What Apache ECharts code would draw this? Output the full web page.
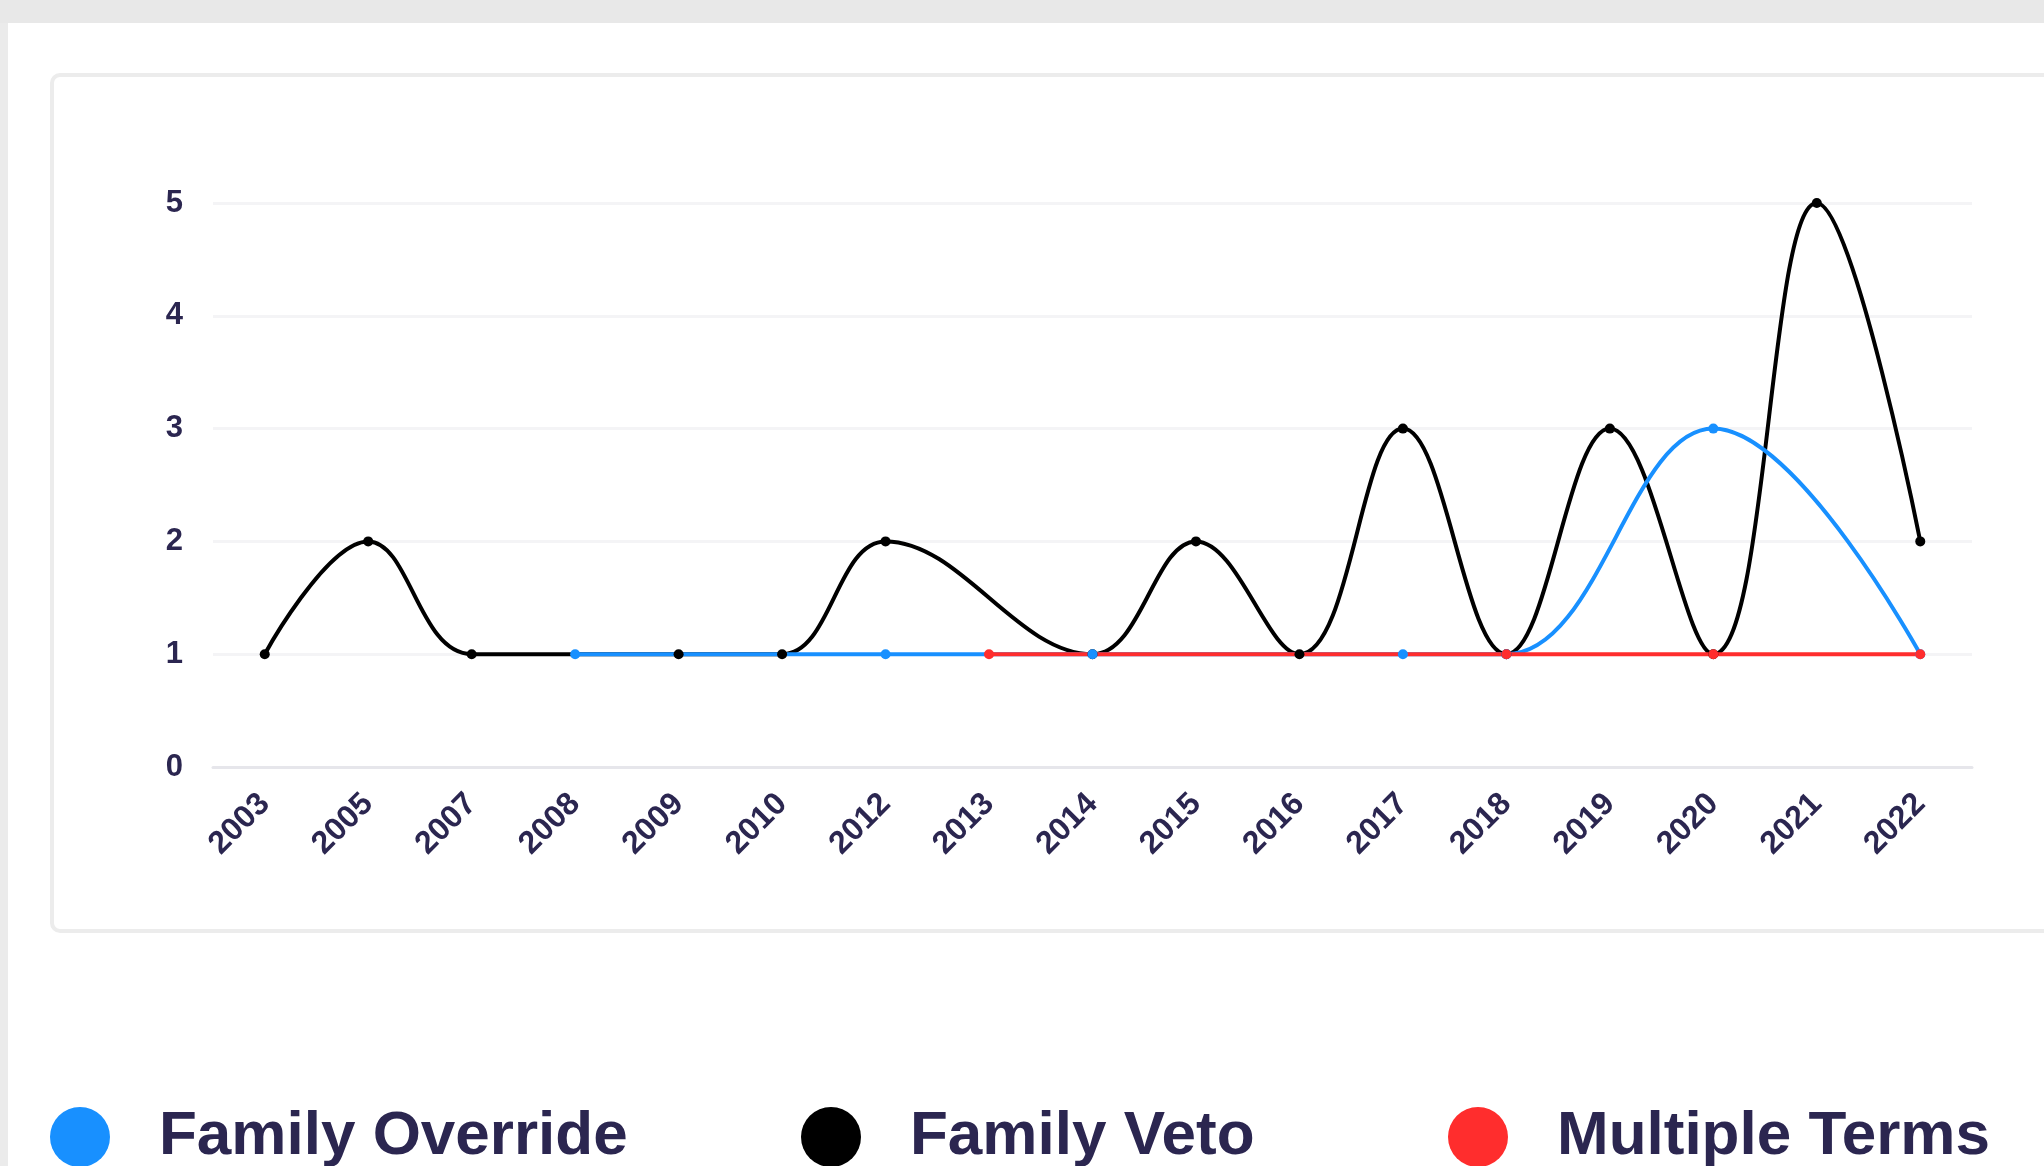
<!DOCTYPE html>
<html>
<head>
<meta charset="utf-8">
<title>Family Override / Veto / Multiple Terms</title>
<script src="https://cdn.jsdelivr.net/npm/echarts/dist/echarts.min.js"></script>
<style>
  html, body {
    margin: 0;
    padding: 0;
    width: 2044px;
    height: 1166px;
    overflow: hidden;
    background: #fff;
  }
  /* page frame */
  .topBar {
    position: absolute;
    left: 0; top: 0;
    width: 2044px; height: 23px;
    background: #e8e8e8;
  }
  .leftBar {
    position: absolute;
    left: 0; top: 23px;
    width: 8px; height: 1143px;
    background: #ebebeb;
  }
  .card {
    position: absolute;
    left: 50px; top: 73px;
    width: 2100px; height: 860px;
    border: 4px solid #ececec;
    border-radius: 10px;
    box-sizing: border-box;
  }
  #chart {
    position: absolute;
    left: 0; top: 0;
    width: 2044px; height: 1166px;
  }
</style>
</head>
<body>
<div class="topBar"></div>
<div class="leftBar"></div>
<div class="card"></div>
<div id="chart"></div>

<script>
// years on the x axis
const years = ['2003', '2005', '2007', '2008', '2009', '2010', '2012', '2013', '2014',
  '2015', '2016', '2017', '2018', '2019', '2020', '2021', '2022'];

// counts per year, null = no record that year
const familyVeto = [1, 2, 1, null, 1, 1, 2, null, 1, 2, 1, 3, 1, 3, 1, 5, 2];
const familyOverride = [null, null, null, 1, null, null, 1, null, 1, null, null, 1, 1, null, 3, null, 1];
const multipleTerms = [null, null, null, null, null, null, null, 1, null, null, null, null, 1, null, 1, null, 1];

const yTicks = [0, 1, 2, 3, 4, 5];

const textColor = '#2b2650';
const fontFamily = '"Liberation Sans", Arial, sans-serif';

const chart = echarts.init(document.getElementById('chart'));

function legendItem(name, left) {
  return {
    data: [name],
    left: left,
    top: 1101,
    icon: 'circle',
    itemWidth: 60,
    itemHeight: 60,
    selectedMode: false,
    textStyle: {
      fontSize: 62,
      fontWeight: 'bold',
      fontFamily: fontFamily,
      color: textColor,
      padding: [0, 0, 0, 44]
    }
  };
}

function lineSeries(name, data, color) {
  return {
    name: name,
    type: 'line',
    data: data,
    smooth: 0.4,
    connectNulls: true,
    symbol: 'circle',
    symbolSize: 10,
    showAllSymbol: true,
    color: color,
    lineStyle: { width: 4, color: color },
    itemStyle: { color: color }
  };
}

const option = {
  animation: false,
  backgroundColor: 'transparent',
  grid: {
    left: 213,
    right: 72,
    top: 203,
    bottom: 399
  },
  legend: [
    legendItem('Family Override', 45),
    legendItem('Family Veto', 796),
    legendItem('Multiple Terms', 1443)
  ],
  xAxis: {
    type: 'category',
    data: years,
    boundaryGap: true,
    axisLine: { lineStyle: { color: '#e6e6eb', width: 3 } },
    axisTick: { show: false },
    axisLabel: {
      rotate: 45,
      margin: 32,
      fontSize: 32,
      fontWeight: 'bold',
      fontFamily: fontFamily,
      color: textColor
    }
  },
  yAxis: {
    type: 'value',
    min: yTicks[0],
    max: yTicks[yTicks.length - 1],
    interval: 1,
    axisLine: { show: false },
    axisTick: { show: false },
    splitLine: { lineStyle: { color: '#f4f4f6', width: 3 } },
    axisLabel: {
      margin: 30,
      fontSize: 31,
      fontWeight: 'bold',
      fontFamily: fontFamily,
      color: textColor
    }
  },
  series: [
    lineSeries('Family Veto', familyVeto, '#000000'),
    lineSeries('Family Override', familyOverride, '#1890ff'),
    lineSeries('Multiple Terms', multipleTerms, '#ff2d2d')
  ]
};

chart.setOption(option);
</script>
</body>
</html>
